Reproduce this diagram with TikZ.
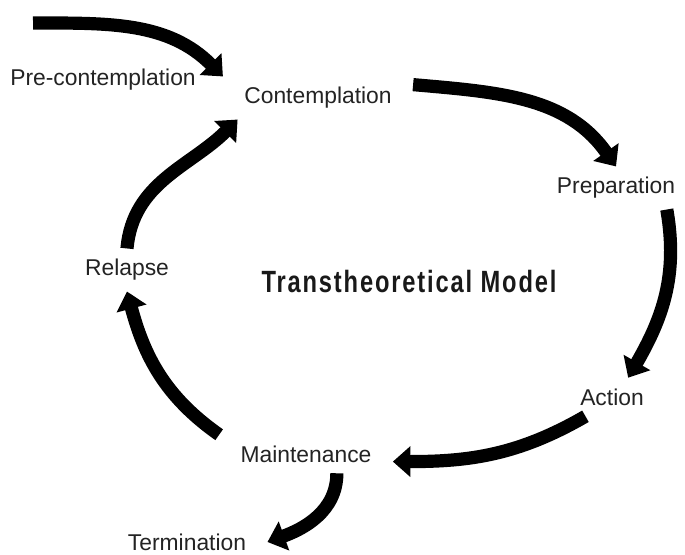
\documentclass[tikz,border=0pt]{standalone}
\usepackage{fontspec}
\setmainfont{Liberation Sans}
\newfontfamily\titulo{Liberation Sans}[FakeStretch=0.77,LetterSpace=6]
\definecolor{texto}{RGB}{35,35,35}
\usepackage{tikz}
\usetikzlibrary{arrows.meta}

\begin{document}
\begin{tikzpicture}[x=0.2mm,y=0.2mm,
    etapa/.style={font=\fontsize{13}{15}\selectfont,text=texto,inner xsep=12pt,inner ysep=6pt},
    flecha/.style={line width=7.5pt,-{Triangle[length=10pt,width=17pt]}}]
  % 685 x 555
  \useasboundingbox (0,0) rectangle (685,555);

  \node[etapa] (pre)   at (103,475) {Pre-contemplation};
  \node[etapa] (cont)  at (318,457) {Contemplation};
  \node[etapa] (prep)  at (616,367) {Preparation};
  \node[etapa] (act)   at (612,158) {Action};
  \node[etapa] (mant)  at (306,101) {Maintenance};
  \node[etapa] (term)  at (187,13)  {Termination};
  \node[etapa] (rec)   at (127,285) {Relapse};
  \node[font=\titulo\bfseries\fontsize{17.5}{20}\selectfont,text=black!90] (modelo) at (409,273)
    {Transtheoretical Model};

  \coordinate (inicio) at (33,532);

  % ciclo
  \draw[flecha] (inicio) to[out=0,in=135] (cont.north west);
  \draw[flecha] (cont.8) to[out=-5,in=125] (prep.north);
  \draw[flecha] (prep.-23) to[out=-80,in=60] (act.50);
  \draw[flecha] (act.-144) to[out=-150,in=0] (mant.-5);
  \draw[flecha] (mant.-32) to[out=-90,in=20] (term.east);
  \draw[flecha] (mant.north west) to[out=145,in=-75] (rec.south);
  \draw[flecha] (rec.north) to[out=85,in=-135] (cont.-165);
\end{tikzpicture}
\end{document}
